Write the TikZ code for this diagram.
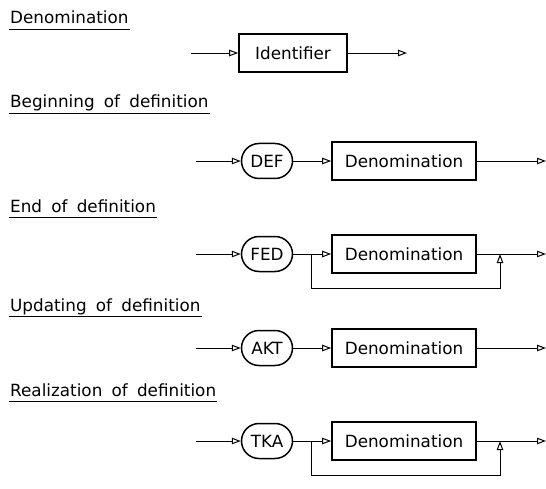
\documentclass[tikz,border=0pt]{standalone}
\usepackage{fontspec}
\setmainfont{DejaVu Sans}
\usetikzlibrary{arrows.meta,shapes.misc}
\newcommand{\wsp}{\hspace{0.55em}}
\begin{document}
\begin{tikzpicture}[x=1pt,y=-1pt,
  every node/.style={font=\fontsize{16.8}{20}\selectfont},
  title/.style={anchor=base west, inner sep=0pt},
  uline/.style={line width=1.2pt},
  termbox/.style={draw, line width=1.7pt, minimum height=38pt, inner sep=0pt},
  keyoval/.style={draw, rounded rectangle, line width=1.5pt, minimum width=51pt, minimum height=35pt, inner sep=0pt},
  conn/.style={line width=0.75pt, -{Triangle[open, length=9pt, width=6.5pt, line width=1pt]}},
]
\useasboundingbox (0,0) rectangle (546,489);

% titles
\node[title] (t1) at (10,24) {Denomination};
\node[title] (t2) at (10,108) {Beginning\wsp of\wsp definition};
\node[title] (t3) at (10,212) {End\wsp of\wsp definition};
\node[title] (t4) at (10,311) {Updating\wsp of\wsp definition};
\node[title] (t5) at (10,396) {Realization\wsp of\wsp definition};
\foreach \t in {t1,t2,t3,t4,t5}{
  \draw[uline] ([xshift=-1pt,yshift=-5.5pt]\t.base west) -- ([xshift=1pt,yshift=-5.5pt]\t.base east);
}

% row 1
\node[termbox, minimum width=108pt] (id) at (293,53) {Identifier};
\coordinate (s1) at (191,53);
\coordinate (e1) at (407,53);
\draw[conn] (s1) -- (id.west);
\draw[conn] (id.east) -- (e1);

% row 2
\node[keyoval] (def) at (267,161) {DEF};
\node[termbox, minimum width=144pt] (d2) at (404,161) {Denomination};
\coordinate (s2) at (196,161);
\coordinate (e2) at (546,161);
\draw[conn] (s2) -- (def.west);
\draw[conn] (def.east) -- (d2.west);
\draw[conn] (d2.east) -- (e2);

% row 3
\node[keyoval] (fed) at (267,254) {FED};
\node[termbox, minimum width=144pt] (d3) at (404,254) {Denomination};
\coordinate (s3) at (196,254);
\coordinate (e3) at (546,254);
\coordinate (b3a) at (311,254);
\coordinate (b3b) at (311,288);
\coordinate (b3c) at (500,288);
\coordinate (b3d) at (500,254);
\draw[conn] (s3) -- (fed.west);
\draw[conn] (fed.east) -- (d3.west);
\draw[conn] (d3.east) -- (e3);
\draw[conn] (b3a) -- (b3b) -- (b3c) -- (b3d);

% row 4
\node[keyoval] (akt) at (267,348) {AKT};
\node[termbox, minimum width=144pt] (d4) at (404,348) {Denomination};
\coordinate (s4) at (196,348);
\coordinate (e4) at (546,348);
\draw[conn] (s4) -- (akt.west);
\draw[conn] (akt.east) -- (d4.west);
\draw[conn] (d4.east) -- (e4);

% row 5
\node[keyoval] (tka) at (267,441) {TKA};
\node[termbox, minimum width=144pt] (d5) at (404,441) {Denomination};
\coordinate (s5) at (196,441);
\coordinate (e5) at (546,441);
\coordinate (b5a) at (311,441);
\coordinate (b5b) at (311,475);
\coordinate (b5c) at (500,475);
\coordinate (b5d) at (500,441);
\draw[conn] (s5) -- (tka.west);
\draw[conn] (tka.east) -- (d5.west);
\draw[conn] (d5.east) -- (e5);
\draw[conn] (b5a) -- (b5b) -- (b5c) -- (b5d);
\end{tikzpicture}
\end{document}
